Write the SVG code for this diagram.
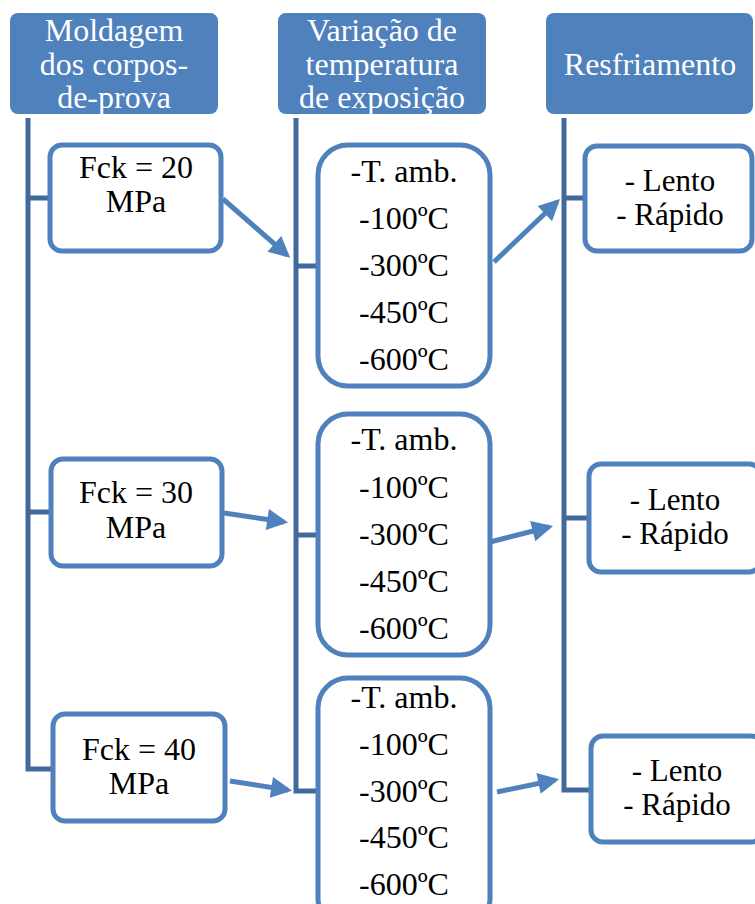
<svg xmlns="http://www.w3.org/2000/svg" width="755" height="904" viewBox="0 0 755 904">
<style>
.hdr{fill:#4F81BD;}
.htxt{font-family:"Liberation Serif","DejaVu Serif",serif;font-size:32px;fill:#ffffff;text-anchor:middle;}
.box{fill:#ffffff;stroke:#4F81BD;stroke-width:5;}
.txt{font-family:"Liberation Serif","DejaVu Serif",serif;font-size:32px;fill:#000000;text-anchor:middle;}
.ltxt{font-family:"Liberation Serif","DejaVu Serif",serif;font-size:31px;fill:#000000;text-anchor:middle;}
.tree{fill:none;stroke:#41699B;stroke-width:5;stroke-linejoin:miter;}
.arr{fill:none;stroke:#4F81BD;stroke-width:5;marker-end:url(#ah);}
</style>
<defs>
<marker id="ah" viewBox="0 0 10 10" refX="8" refY="5" markerWidth="4.6" markerHeight="4.2" orient="auto" markerUnits="strokeWidth">
<path d="M0,0 L10,5 L0,10 Z" fill="#4F81BD"/>
</marker>
</defs>
<rect width="755" height="904" fill="#ffffff"/>

<g id="connectors">
<path class="tree" d="M28,118 V769 H52 M28,198 H50 M28,512 H52"/>
<path class="tree" d="M296,118 V791 H318 M296,266 H318 M296,535 H318"/>
<path class="tree" d="M564,118 V790 H592 M564,198 H586 M564,518 H590"/>
<line class="arr" x1="223" y1="199" x2="287" y2="255"/>
<line class="arr" x1="224" y1="513" x2="284" y2="522"/>
<line class="arr" x1="230" y1="781" x2="288" y2="790"/>
<line class="arr" x1="494" y1="262" x2="557" y2="202"/>
<line class="arr" x1="490" y1="542" x2="549" y2="527"/>
<line class="arr" x1="497" y1="792" x2="555" y2="780"/>
</g>

<g id="h1">
<rect class="hdr" x="10" y="13" width="208" height="101" rx="8"/>
<text class="htxt" x="114" y="41">Moldagem</text>
<text class="htxt" x="114" y="75">dos corpos-</text>
<text class="htxt" x="114" y="108">de-prova</text>
</g>
<g id="h2">
<rect class="hdr" x="278" y="13" width="208" height="101" rx="8"/>
<text class="htxt" x="382" y="41">Variação de</text>
<text class="htxt" x="382" y="75">temperatura</text>
<text class="htxt" x="382" y="108">de exposição</text>
</g>
<g id="h3">
<rect class="hdr" x="546" y="13" width="207" height="101" rx="8"/>
<text class="htxt" x="650" y="75">Resfriamento</text>
</g>

<g id="f20">
<rect class="box" x="50" y="145" width="171" height="106" rx="12"/>
<text class="txt" x="136" y="178">Fck = 20</text>
<text class="txt" x="136" y="212">MPa</text>
</g>
<g id="f30">
<rect class="box" x="51" y="459" width="171" height="107" rx="12"/>
<text class="txt" x="136" y="503">Fck = 30</text>
<text class="txt" x="136" y="538">MPa</text>
</g>
<g id="f40">
<rect class="box" x="53" y="714" width="172" height="107" rx="12"/>
<text class="txt" x="139" y="760">Fck = 40</text>
<text class="txt" x="139" y="794">MPa</text>
</g>

<g id="t1">
<rect class="box" x="318" y="145" width="172" height="241" rx="30"/>
<text class="txt" x="404" y="182">-T. amb.</text>
<text class="txt" x="404" y="229">-100ºC</text>
<text class="txt" x="404" y="276">-300ºC</text>
<text class="txt" x="404" y="323">-450ºC</text>
<text class="txt" x="404" y="370">-600ºC</text>
</g>
<g id="t2">
<rect class="box" x="318" y="414" width="172" height="241" rx="30"/>
<text class="txt" x="404" y="450">-T. amb.</text>
<text class="txt" x="404" y="498">-100ºC</text>
<text class="txt" x="404" y="545">-300ºC</text>
<text class="txt" x="404" y="592">-450ºC</text>
<text class="txt" x="404" y="639">-600ºC</text>
</g>
<g id="t3">
<rect class="box" x="318" y="678" width="172" height="250" rx="30"/>
<text class="txt" x="404" y="708">-T. amb.</text>
<text class="txt" x="404" y="755">-100ºC</text>
<text class="txt" x="404" y="802">-300ºC</text>
<text class="txt" x="404" y="848">-450ºC</text>
<text class="txt" x="404" y="895">-600ºC</text>
</g>

<g id="r1">
<rect class="box" x="585" y="146" width="167" height="105" rx="12"/>
<text class="ltxt" x="670" y="191">- Lento</text>
<text class="ltxt" x="670" y="225">- Rápido</text>
</g>
<g id="r2">
<rect class="box" x="589" y="464" width="172" height="108" rx="12"/>
<text class="ltxt" x="675" y="510">- Lento</text>
<text class="ltxt" x="675" y="544">- Rápido</text>
</g>
<g id="r3">
<rect class="box" x="591" y="736" width="172" height="106" rx="12"/>
<text class="ltxt" x="677" y="781">- Lento</text>
<text class="ltxt" x="677" y="815">- Rápido</text>
</g>
</svg>
